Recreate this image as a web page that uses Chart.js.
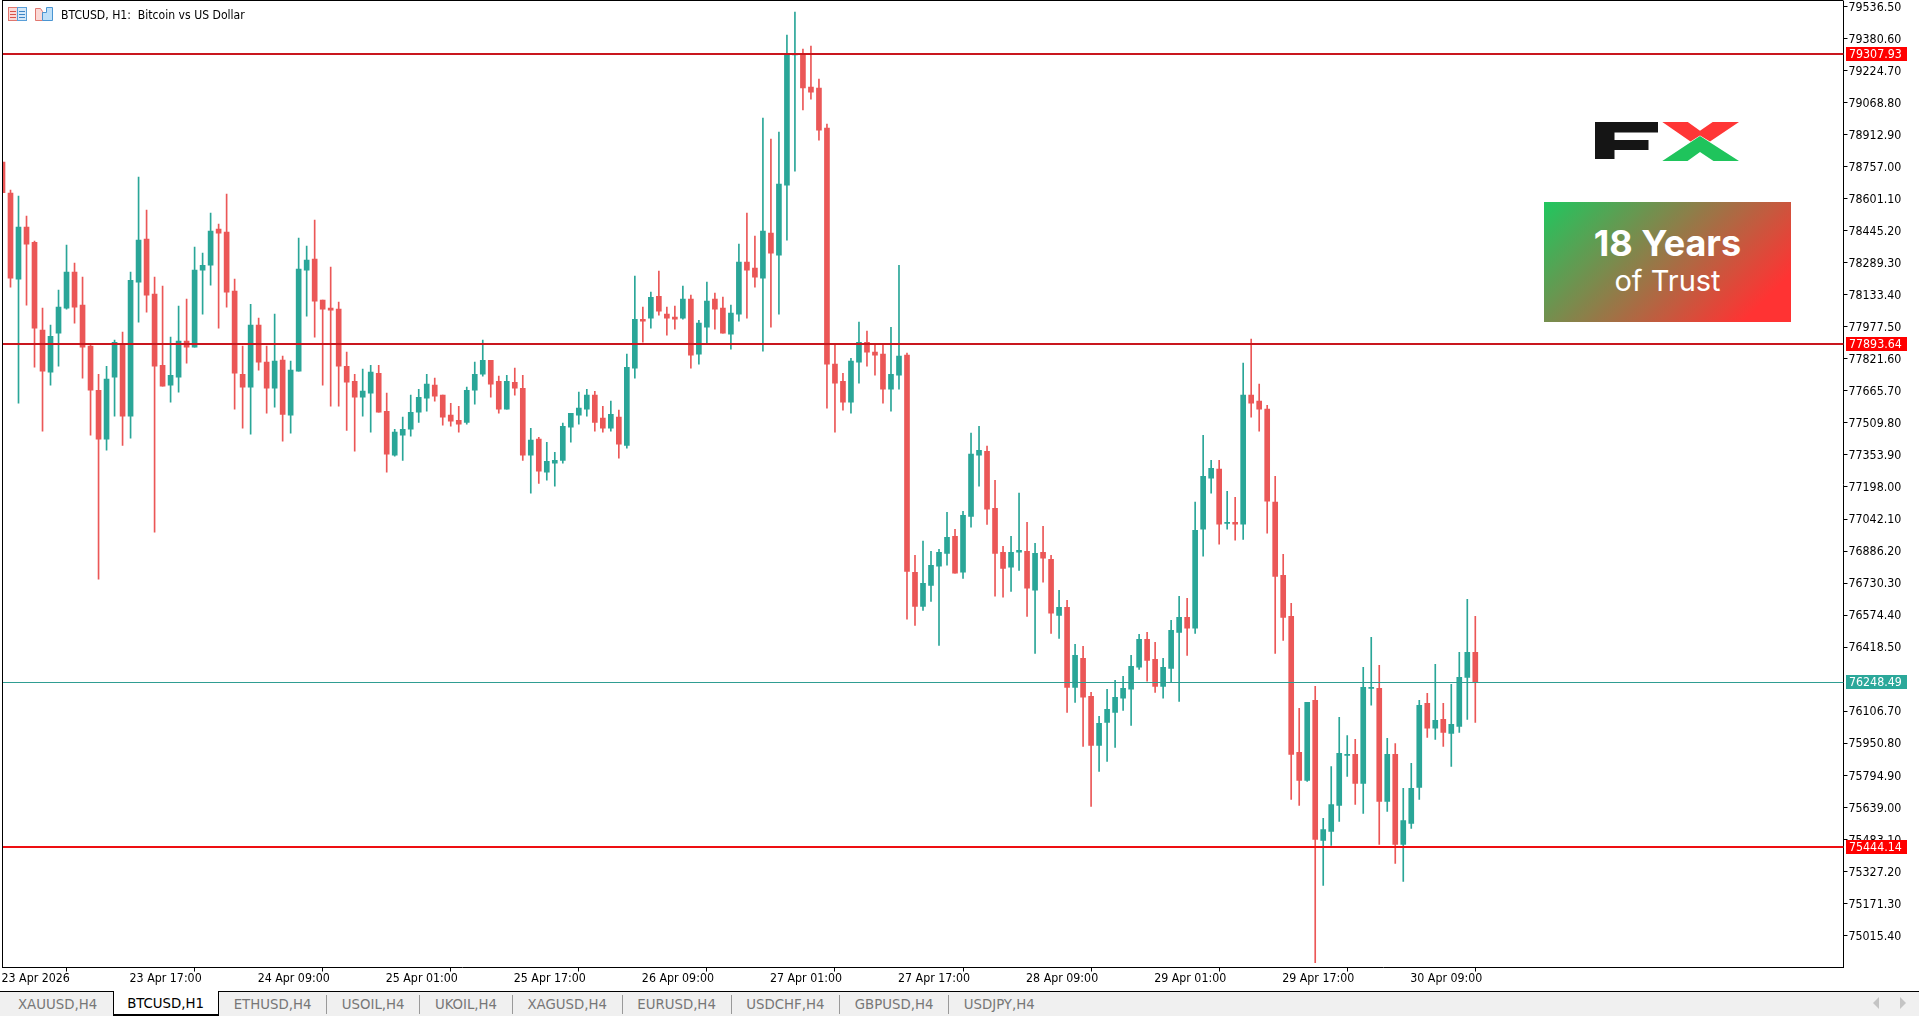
<!DOCTYPE html>
<html>
<head>
<meta charset="utf-8">
<title>BTCUSD, H1</title>
<script src="https://cdn.jsdelivr.net/npm/chart.js@4"></script>
<style>
html, body { margin: 0; padding: 0; background: #fff; overflow: hidden; }
body { width: 1919px; height: 1016px; position: relative; font-family: "DejaVu Sans Condensed", "Liberation Sans", sans-serif; }
canvas { display: block; position: absolute; left: 0; top: 0; }
#title { position: absolute; left: 61px; top: 8px; font-size: 12.1px; line-height: 14px; white-space: pre; color: #000; }
#icons { position: absolute; left: 8px; top: 6px; }
#logo { position: absolute; left: 1590px; top: 118px; }
#badge { position: absolute; left: 1544px; top: 202px; width: 247px; height: 120px; background: linear-gradient(135deg, #22c55e 1%, #ff3333 87%); color: #fff; text-align: center; font-family: Inter, "Open Sans", sans-serif; }
#badge .a { position: absolute; left: 0; right: 0; top: 19px; font-size: 36px; line-height: 44px; font-weight: 700; }
#badge .b { position: absolute; left: 0; right: 0; top: 61px; font-size: 29px; line-height: 36px; font-weight: 400; }
#tabs { position: absolute; left: 0; top: 991px; width: 1919px; height: 25px; background: #f0f0f0; border-top: 1px solid #000; box-sizing: border-box; font-size: 14.8px; color: #777; white-space: nowrap; }
#tabs .tab { position: relative; display: inline-block; height: 24px; line-height: 23px; padding: 0 14.7px; box-sizing: border-box; vertical-align: top; }
#tabs .tab:first-child { padding: 0 15.5px 0 18px; }
#tabs .sep { display: inline-block; width: 1px; height: 19px; margin-top: 3px; background: #999; vertical-align: top; }
#tabs .active { background: #fff; color: #000; border-left: 1px solid #000; border-right: 1px solid #000; border-bottom: 2px solid #000; margin-top: -1px; height: 25px; padding: 0 14px 0 13.5px; line-height: 24px; }
.arrow { position: absolute; top: 997px; width: 0; height: 0; border-top: 6px solid transparent; border-bottom: 6px solid transparent; }
</style>
</head>
<body>
<canvas id="btcChart" width="1919" height="991"></canvas>
<svg id="icons" width="48" height="16" viewBox="0 0 48 16">
  <rect x="0.5" y="1.5" width="9" height="13" fill="#fbd9d6" stroke="#e0776f"/>
  <rect x="9.5" y="1.5" width="9" height="13" fill="#d5e8f8" stroke="#5a9fd8"/>
  <path d="M2 5.5h6M2 8.5h6M2 11.5h6" stroke="#d9534a"/>
  <path d="M11 5.5h6M11 8.5h6M11 11.5h6" stroke="#3f86c6"/>
  <path d="M27.5 2.5h5l2 3v9h-7z" fill="#fbd9d6" stroke="#e0776f"/>
  <path d="M34.5 6.5h4v-5h6v13h-10z" fill="#bfe0f8" stroke="#4a95d2"/>
</svg>
<div id="title">BTCUSD, H1:  Bitcoin vs US Dollar</div>
<svg id="logo" width="155" height="48" viewBox="0 0 155 48">
  <path d="M5 4h63v10.5H24.5v7.5h34v10h-34v9H5z" fill="#151515"/>
  <path d="M72.3 4h25.5l12.2 8.7L122.7 4H149l-29 19.500-10-6-9.500 6z" fill="#ff3636"/>
  <path d="M110 18l39 25h-25.500L110 34l-12.500 9H72.300z" fill="#1fc45c"/>
</svg>
<div id="badge"><div class="a">18 Years</div><div class="b">of Trust</div></div>
<div id="tabs"></div>
<div class="arrow" style="left:1873px;border-right:6px solid #c4c4c4"></div>
<div class="arrow" style="left:1900px;border-left:6px solid #c4c4c4"></div>

<script>
// BTCUSD H1 candles
var opens = [
  78780,78629,78210,78464,78390,77962,77757,77947,78069,78244,
  78084,77884,77669,77431,77733,77894,77543,78196,78405,78137,
  77791,77694,77733,77908,77879,78254,78278,78454,78439,78152,
  77747,77684,77986,77806,77679,77816,77548,77762,78254,78308,
  78108,78069,78064,77786,77713,77635,77655,77752,77567,77353,
  77450,77479,77562,77630,77694,77645,77548,77523,77513,77669,
  77747,77815,77713,77577,77708,77679,77353,77431,77270,77314,
  77328,77489,77548,77577,77645,77533,77484,77538,77401,77777,
  78015,78020,78127,78040,78025,78020,78113,77845,77976,78113,
  78069,77942,78040,78293,78264,78215,78434,78327,78668,79302,
  79305,79146,79141,78946,77796,77713,77611,77806,77903,77855,
  77845,77674,77742,77840,76783,76617,76719,76812,76875,76958,
  76783,77055,77353,77372,77094,76880,76807,76880,76885,76695,
  76880,76846,76573,76612,76222,76364,76178,75940,76052,76100,
  76169,76213,76320,76456,76359,76227,76315,76490,76563,76510,
  76992,77241,77285,77021,77026,77017,77645,77616,77577,77124,
  76768,76568,75906,75769,76159,75477,75521,75647,75891,75896,
  75754,76217,76217,75667,75896,75457,75560,75735,76144,76023,
  76066,75998,76032,76271,76393
];
var highs = [
  78780,78644,78615,78517,78395,78069,77986,78157,78376,78288,
  78220,77889,77747,77786,77913,77952,78244,78707,78546,78220,
  78176,77928,78079,78113,78366,78337,78532,78478,78624,78210,
  77884,78088,78020,77884,78040,77835,77811,78410,78371,78498,
  78108,78269,78098,77855,77747,77772,77791,77791,77655,77479,
  77538,77645,77674,77747,77728,77645,77606,77591,77684,77806,
  77913,77815,77738,77742,77777,77742,77484,77440,77416,77367,
  77509,77557,77660,77674,77664,77591,77616,77572,77845,78225,
  78074,78147,78249,78074,78079,78176,78132,78010,78196,78142,
  78123,78084,78381,78532,78420,78995,78892,78926,79399,79511,
  79331,79345,79185,78965,77893,77752,77825,78001,77957,77893,
  77893,77976,78278,77850,76865,76934,76885,76895,77075,76992,
  77080,77460,77494,77397,77231,76909,76958,77168,77026,76924,
  77007,76865,76695,76646,76432,76422,76198,76081,76213,76256,
  76276,76378,76481,76490,76442,76364,76549,76666,76656,77124,
  77450,77328,77328,77177,77148,77801,77918,77699,77596,77250,
  76870,76632,76120,76149,76227,75584,75837,76076,75988,75969,
  76320,76466,76329,75974,75949,75730,75852,76159,76193,76334,
  76144,76237,76393,76651,76568
];
var lows = [
  78631,78171,77606,78084,77781,77470,77694,77786,78064,77996,
  77728,77450,76749,77377,77543,77401,77436,78001,78049,76978,
  77689,77611,77660,77801,77879,78040,78181,77971,78074,77577,
  77484,77455,77767,77557,77587,77421,77460,77762,78030,77928,
  77694,77591,77591,77474,77372,77543,77465,77562,77270,77348,
  77328,77445,77513,77567,77616,77499,77494,77465,77504,77601,
  77738,77635,77557,77577,77645,77328,77168,77216,77231,77202,
  77314,77416,77504,77543,77470,77465,77470,77338,77387,77728,
  77903,77971,78035,77937,77967,78015,77777,77796,77898,77967,
  77947,77869,78006,78020,78171,77859,77976,78040,78400,78736,
  79034,79087,78887,77582,77465,77572,77557,77703,77786,77742,
  77606,77567,77674,76554,76524,76597,76641,76427,76817,76778,
  76753,77002,77202,77016,76666,76661,76690,76792,76568,76388,
  76734,76485,76461,76100,76149,75935,75642,75813,75862,75930,
  76110,76037,76310,76252,76198,76169,76247,76154,76378,76485,
  76861,77168,76919,76992,76939,76943,77538,77470,76973,76388,
  76451,75677,75647,75764,74882,75258,75452,75569,75789,75652,
  75608,76135,75457,75618,75365,75277,75535,75677,75979,75969,
  75935,75837,76003,76066,76052
];
var closes = [
  78631,78215,78464,78381,77971,77762,77932,78074,78244,78074,
  77879,77669,77431,77723,77903,77543,78205,78400,78132,77786,
  77689,77742,77908,77879,78254,78278,78444,78434,78147,77752,
  77684,77986,77806,77679,77811,77552,77767,78259,78303,78103,
  78064,78059,77786,77708,77635,77665,77757,77562,77358,77465,
  77479,77562,77635,77699,77640,77538,77518,77504,77669,77747,
  77815,77699,77577,77713,77679,77353,77426,77275,77323,77328,
  77494,77557,77582,77645,77513,77484,77552,77406,77781,78015,
  78006,78122,78054,78020,78015,78113,77840,77996,78103,78064,
  77947,78045,78293,78254,78220,78444,78337,78673,79302,79310,
  79141,79121,78936,77796,77703,77611,77811,77903,77855,77840,
  77674,77747,77835,76787,76617,76729,76817,76880,76953,76778,
  77060,77358,77377,77090,76875,76802,76880,76890,76705,76875,
  76851,76583,76612,76222,76378,76174,75940,76047,76115,76174,
  76217,76325,76456,76354,76227,76320,76500,76563,76510,76987,
  77250,77289,77017,77026,77017,77645,77606,77577,77129,76763,
  76563,75896,75769,76149,75482,75530,75652,75901,75896,75754,
  76222,76222,75667,75896,75457,75574,75730,76135,76023,76062,
  76003,76042,76271,76393,76248.49
];

// one date label every 16 bars
var timeLabels = ['23 Apr 2026', '23 Apr 17:00', '24 Apr 09:00', '25 Apr 01:00', '25 Apr 17:00', '26 Apr 09:00',
  '27 Apr 01:00', '27 Apr 17:00', '28 Apr 09:00', '29 Apr 01:00', '29 Apr 17:00', '30 Apr 09:00'];
var priceTicks = [79536.5, 79380.6, 79224.7, 79068.8, 78912.9, 78757, 78601.1, 78445.2, 78289.3, 78133.4, 77977.5,
  77821.6, 77665.7, 77509.8, 77353.9, 77198, 77042.1, 76886.2, 76730.3, 76574.4, 76418.5, 76106.7,
  75950.8, 75794.9, 75639, 75483.1, 75327.2, 75171.3, 75015.4];
var levels = [79307.93, 77893.64, 75444.14];
var lastPrice = 76248.49;
var tabNames = ['XAUUSD,H4', 'BTCUSD,H1', 'ETHUSD,H4', 'USOIL,H4', 'UKOIL,H4', 'XAGUSD,H4', 'EURUSD,H4', 'USDCHF,H4', 'GBPUSD,H4', 'USDJPY,H4'];

var UP = '#2aa698', DOWN = '#eb5757';
var AXIS_FONT = { family: '"DejaVu Sans Condensed", "Liberation Sans", sans-serif', size: 12.3 };

// x axis has empty room to the right of the last candle
var slots = 231;
var xLabels = [];
for (var i = 0; i < slots; i++) {
  xLabels.push(i % 16 === 0 && timeLabels[i / 16] ? timeLabels[i / 16] : '');
}

var candleColors = opens.map(function(o, i) { return closes[i] >= o ? UP : DOWN; });

// horizontal levels, price tags and the frame, drawn through the y scale
var levelsPlugin = {
  id: 'levels',
  afterDatasetsDraw: function(chart) {
    var c = chart.ctx, a = chart.chartArea, y = chart.scales.y;
    c.save();
    levels.forEach(function(v, i) {
      var p = Math.round(y.getPixelForValue(v));
      c.fillStyle = i === 2 ? '#ee0f12' : '#c9171e';
      c.fillRect(a.left, p - 1, a.right - a.left, 2);
    });
    c.fillStyle = '#2f9d92';
    c.fillRect(a.left, Math.round(y.getPixelForValue(lastPrice)), a.right - a.left, 1);
    c.restore();
  },
  afterDraw: function(chart) {
    var c = chart.ctx, a = chart.chartArea, y = chart.scales.y;
    c.save();
    c.font = AXIS_FONT.size + 'px ' + AXIS_FONT.family;
    c.textBaseline = 'middle';
    function tag(v, bg) {
      var p = Math.round(y.getPixelForValue(v));
      c.fillStyle = bg;
      c.fillRect(1846, p - 7, 61, 14);
      c.fillStyle = '#fff';
      c.fillText(v.toFixed(2), 1849, p + 0.5);
    }
    levels.forEach(function(v) { tag(v, '#ff0000'); });
    tag(lastPrice, '#2ba89a');
    c.fillStyle = '#000';
    c.fillRect(a.left - 0.5, 0, 1, a.bottom);
    c.fillRect(a.left - 0.5, 0, a.right - a.left + 0.5, 1);
    c.restore();
  }
};

var btcChart = new Chart(document.getElementById('btcChart'), {
  type: 'bar',
  data: {
    labels: xLabels,
    datasets: [{
      // bodies
      data: opens.map(function(o, i) { return [o, closes[i]]; }),
      backgroundColor: candleColors,
      barThickness: 5,
      grouped: false,
      borderWidth: 0,
      order: 1
    }, {
      // wicks
      data: lows.map(function(l, i) { return [l, highs[i]]; }),
      backgroundColor: candleColors,
      barThickness: 1,
      grouped: false,
      borderWidth: 0,
      order: 2
    }]
  },
  options: {
    responsive: false,
    animation: false,
    layout: { padding: { left: 2.5, top: 1, right: 0, bottom: 0 } },
    plugins: { legend: { display: false }, tooltip: { enabled: false } },
    scales: {
      x: {
        type: 'category',
        offset: false,
        border: { color: '#000', width: 1 },
        grid: { drawOnChartArea: false, drawTicks: true, tickLength: 4, color: '#000' },
        afterBuildTicks: function(s) {
          s.ticks = s.ticks.filter(function(t) { return xLabels[t.value] !== ''; });
        },
        ticks: {
          autoSkip: false,
          maxRotation: 0,
          minRotation: 0,
          align: 'start',
          padding: 0,
          labelOffset: -1,
          color: '#000',
          font: AXIS_FONT,
          callback: function(value) { return xLabels[value]; }
        },
        afterFit: function(s) { s.height = 23.5; s.paddingLeft = 0; s.paddingRight = 0; }
      },
      y: {
        position: 'right',
        min: 74858,
        max: 79564.7,
        border: { color: '#000', width: 1 },
        grid: { drawOnChartArea: false, drawTicks: true, tickLength: 4, color: '#000' },
        afterBuildTicks: function(s) {
          s.ticks = priceTicks.map(function(v) { return { value: v }; });
        },
        ticks: {
          padding: 1,
          labelOffset: 1.2,
          color: '#000',
          font: AXIS_FONT,
          callback: function(value) { return value.toFixed(2); }
        },
        // no extra room for the half height of the first and last label
        afterFit: function(s) { s.width = 75.5; s.paddingTop = 0; s.paddingBottom = 0; }
      }
    }
  },
  plugins: [levelsPlugin]
});

// symbol tabs along the bottom
var tabs = document.getElementById('tabs');
tabNames.forEach(function(name, i) {
  var t = document.createElement('span');
  t.className = 'tab' + (name === 'BTCUSD,H1' ? ' active' : '');
  t.textContent = name;
  tabs.appendChild(t);
  if (i > 1 && i < tabNames.length - 1) {
    var s = document.createElement('span');
    s.className = 'sep';
    tabs.appendChild(s);
  }
});
</script>
</body>
</html>
